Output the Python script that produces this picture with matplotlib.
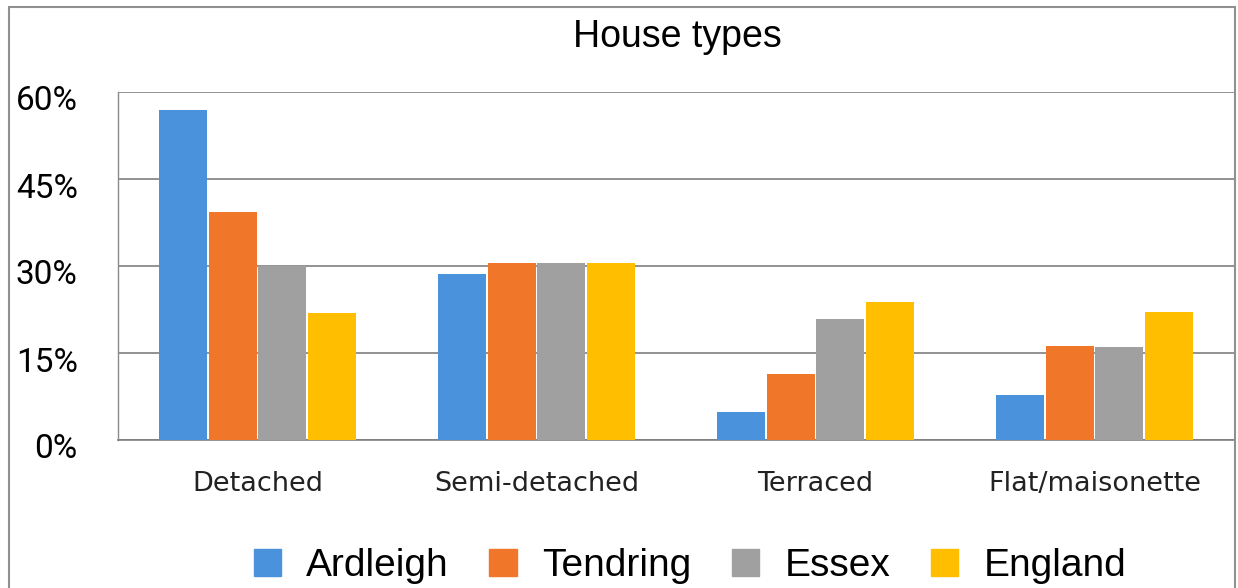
import matplotlib.pyplot as plt
import matplotlib.patches as mpatches
import matplotlib.transforms as mtransforms
import numpy as np

categories = ["Detached", "Semi-detached", "Terraced", "Flat/maisonette"]
series_names = ["Ardleigh", "Tendring", "Essex", "England"]
ardleigh = [56.9, 28.6, 4.8, 7.8]
tendring = [39.3, 30.5, 11.4, 16.2]
essex = [30.0, 30.5, 20.9, 16.0]
england = [21.9, 30.5, 23.8, 22.1]
y_ticks = [0, 15, 30, 45, 60]

colors = ['#4A92DC', '#F0772A', '#A0A0A0', '#FFBF00']
grid_color = '#7f7f7f'

fig = plt.figure(figsize=(12.38, 5.88), dpi=100)
ax = fig.add_axes([118 / 1238, 1 - 440 / 588, (1234 - 118) / 1238, (440 - 92) / 588])

x = np.arange(len(categories))
step = 0.179
width = 0.172
for j, (name, vals) in enumerate(zip(series_names, [ardleigh, tendring, essex, england])):
    ax.bar(x + (j - 1.5) * step, vals, width, color=colors[j], label=name, zorder=3)

ax.set_xlim(-0.5, len(categories) - 0.5)
ax.set_ylim(0, 60)
ax.set_yticks(y_ticks)
ax.set_yticklabels([f"{t}%" for t in y_ticks], fontfamily="Roboto", fontsize=24)
ax.tick_params(axis='y', length=0, pad=29)
# labels sit a little below their gridlines in the original
shift = mtransforms.ScaledTranslation(0, -6 / 100, fig.dpi_scale_trans)
for lab in ax.get_yticklabels():
    lab.set_transform(lab.get_transform() + shift)
ax.set_xticks(x)
ax.set_xticklabels(categories, fontfamily="DejaVu Sans", fontsize=19.5, color='#222222')
ax.tick_params(axis='x', length=0, pad=22)
ax.grid(axis='y', color=grid_color, linewidth=1.2, zorder=0)
for s in ['top', 'right']:
    ax.spines[s].set_visible(False)
ax.spines['bottom'].set_color(grid_color)
ax.spines['bottom'].set_linewidth(1.2)
ax.spines['left'].set_color('#8a8a8a')
ax.spines['left'].set_linewidth(1.0)

fig.text(677 / 1238, 1 - 37 / 588, "House types", ha='center', va='center',
         fontfamily="Liberation Sans", fontsize=27)

handles = [mpatches.Patch(color=c, label=n) for c, n in zip(colors, series_names)]
fig.legend(handles=handles, loc='center', bbox_to_anchor=(690 / 1238, 1 - 566 / 588),
           ncol=4, frameon=False, prop={'family': 'Liberation Sans', 'size': 28},
           handlelength=0.7, handleheight=0.7, handletextpad=0.65, columnspacing=1.05,
           borderpad=0, borderaxespad=0)

frame = mpatches.Rectangle((9 / 1238, -0.05), (1235 - 9) / 1238, (588 - 7) / 588 + 0.05,
                           transform=fig.transFigure, fill=False, edgecolor='#909090',
                           linewidth=1.5)
fig.patches.append(frame)

fig.savefig("out.png", dpi=100)
